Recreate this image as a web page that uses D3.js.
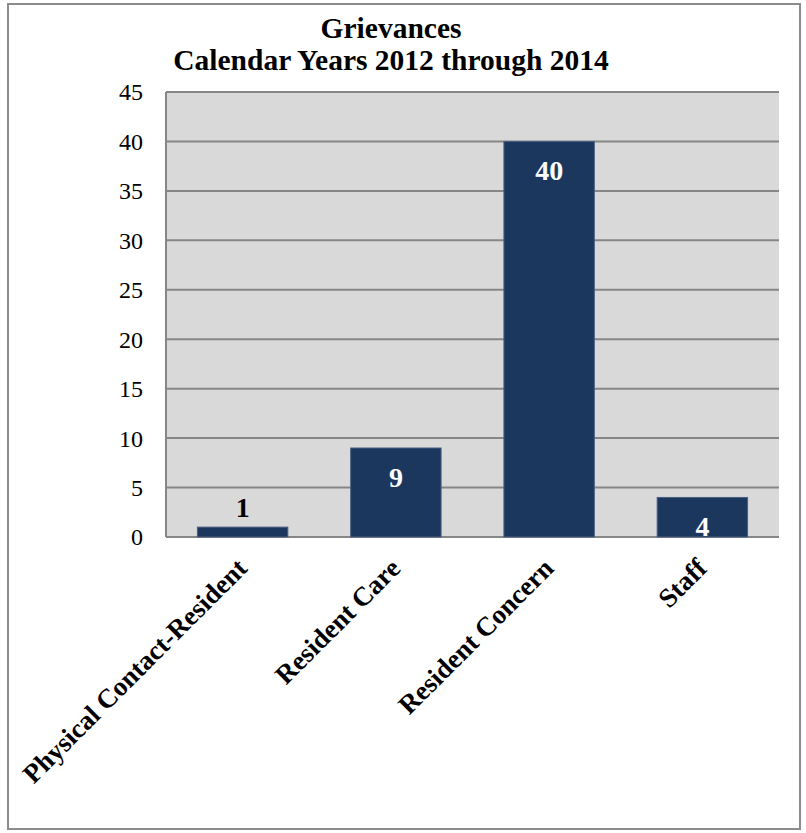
<!DOCTYPE html>
<html>
<head>
<meta charset="utf-8">
<script src="https://cdn.jsdelivr.net/npm/d3@7"></script>
<style>
  html, body { margin: 0; padding: 0; background: #fff; }
  svg { display: block; }
</style>
</head>
<body>
<svg id="chart" width="806" height="833"></svg>
<script>
const categories = ["Physical Contact-Resident", "Resident Care", "Resident Concern", "Staff"];
const counts = [1, 9, 40, 4];
const yTicks = [0, 5, 10, 15, 20, 25, 30, 35, 40, 45];
const titleLines = ["Grievances", "Calendar Years 2012 through 2014"];

const FONT = '"Liberation Serif"';
const svg = d3.select("#chart");
const plot = { left: 166, right: 779, top: 92, bottom: 537 };

// outer frame
svg.append("rect")
  .attr("x", 8).attr("y", 4)
  .attr("width", 792).attr("height", 825)
  .attr("fill", "#fff")
  .attr("stroke", "#8c8c8c")
  .attr("stroke-width", 2);

const x = d3.scaleBand()
  .domain(categories)
  .range([plot.left, plot.right])
  .paddingInner(0.41)
  .paddingOuter(0.205);

const y = d3.scaleLinear()
  .domain([0, 45])
  .range([plot.bottom, plot.top]);

// plot background
svg.append("rect")
  .attr("x", plot.left).attr("y", plot.top)
  .attr("width", plot.right - plot.left)
  .attr("height", plot.bottom - plot.top)
  .attr("fill", "#d9d9d9");

// gridlines
svg.append("g")
  .selectAll("line")
  .data(yTicks.filter(d => d > 0))
  .join("line")
  .attr("x1", plot.left).attr("x2", plot.right)
  .attr("y1", d => y(d)).attr("y2", d => y(d))
  .attr("stroke", "#868686")
  .attr("stroke-width", 2);

// left and bottom axis lines
svg.append("line")
  .attr("x1", plot.left).attr("x2", plot.left)
  .attr("y1", plot.top).attr("y2", plot.bottom)
  .attr("stroke", "#868686").attr("stroke-width", 2);
svg.append("line")
  .attr("x1", plot.left).attr("x2", plot.right)
  .attr("y1", plot.bottom).attr("y2", plot.bottom)
  .attr("stroke", "#868686").attr("stroke-width", 2);

// y axis labels
const yAxis = d3.axisLeft(y).tickValues(yTicks).tickSize(0).tickPadding(23);
const gy = svg.append("g")
  .attr("transform", `translate(${plot.left},0)`)
  .call(yAxis);
gy.attr("font-family", null).attr("font-size", null);
gy.select(".domain").remove();
gy.selectAll("text")
  .style("font-family", FONT)
  .style("font-size", "24px")
  .attr("dy", "0.33em")
  .attr("fill", "#000");

// bars
svg.append("g")
  .selectAll("rect")
  .data(categories)
  .join("rect")
  .attr("x", d => x(d))
  .attr("width", x.bandwidth())
  .attr("y", (d, i) => y(counts[i]))
  .attr("height", (d, i) => y(0) - y(counts[i]))
  .attr("fill", "#1b375e")
  .attr("stroke", "#4a6080")
  .attr("stroke-width", 1);

// value labels: inside the bar top, or above it when the bar is short
svg.append("g")
  .selectAll("text")
  .data(categories)
  .join("text")
  .attr("x", d => x(d) + x.bandwidth() / 2)
  .attr("y", (d, i) => counts[i] < 2 ? y(counts[i]) - 10 : y(counts[i]) + 39)
  .attr("text-anchor", "middle")
  .style("font-family", FONT)
  .style("font-size", "28px")
  .style("font-weight", "bold")
  .attr("fill", (d, i) => counts[i] < 2 ? "#000" : "#fff")
  .text((d, i) => counts[i]);

// category labels, rotated
svg.append("g")
  .selectAll("text")
  .data(categories)
  .join("text")
  .attr("transform", d => `translate(${x(d) + x.bandwidth() / 2 + 6},${plot.bottom + 33}) rotate(-45)`)
  .attr("text-anchor", "end")
  .style("font-family", FONT)
  .style("font-size", "27px")
  .style("font-weight", "bold")
  .attr("fill", "#000")
  .text(d => d);

// title
svg.append("g")
  .selectAll("text")
  .data(titleLines)
  .join("text")
  .attr("x", 391)
  .attr("y", (d, i) => 38 + i * 32)
  .attr("text-anchor", "middle")
  .style("font-family", FONT)
  .style("font-size", "29.5px")
  .style("font-weight", "bold")
  .attr("fill", "#000")
  .text(d => d);
</script>
</body>
</html>
